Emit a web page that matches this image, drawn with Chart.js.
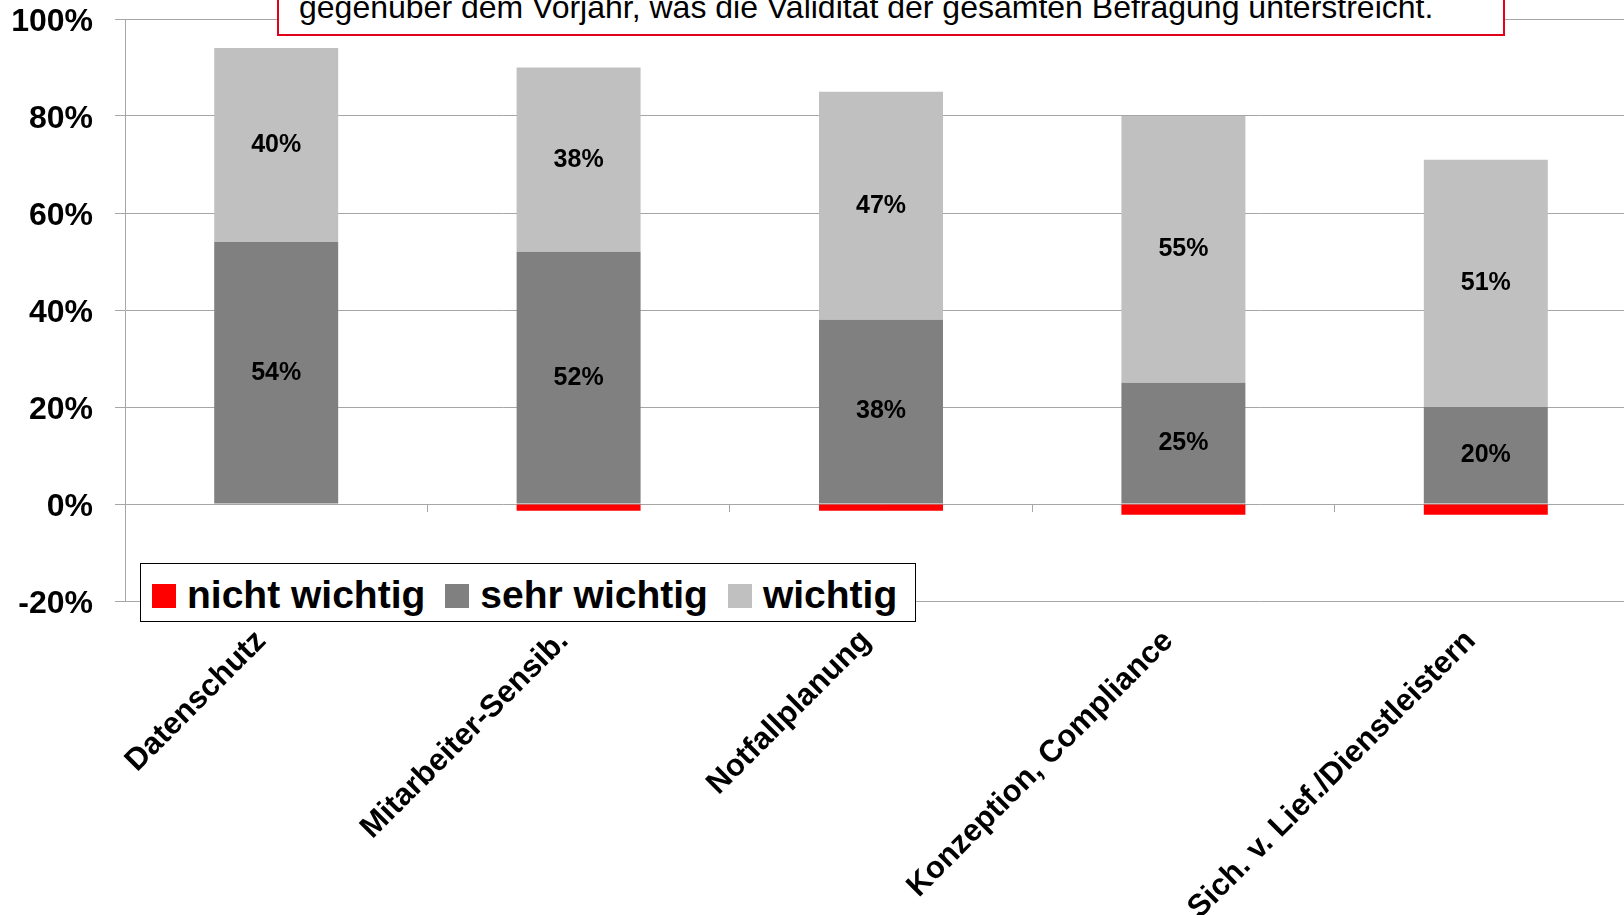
<!DOCTYPE html>
<html lang="de">
<head>
<meta charset="utf-8">
<title>Wichtigkeit der Themen</title>
<script src="https://cdn.jsdelivr.net/npm/chart.js@4.4.1/dist/chart.umd.min.js"></script>
<style>
  html, body { margin: 0; padding: 0; background: #fff; overflow: hidden; }
  #wrap { position: relative; width: 1624px; height: 915px; overflow: hidden; font-family: "Liberation Sans", Arial, sans-serif; }
  #grafico { position: absolute; left: 0; top: 0; }
  #hinweis-box { position: absolute; left: 277px; top: -40px; width: 1228px; height: 76px; box-sizing: border-box; border: 2px solid #e3001b; background: #fff; }
  #hinweis { position: absolute; left: 299px; top: -9px; font-size: 32px; line-height: 32px; white-space: nowrap; color: #000; }
  #legende { position: absolute; left: 140px; top: 563px; width: 776px; height: 59px; box-sizing: border-box; border: 1.5px solid #000; background: #fff; display: flex; align-items: center; padding-left: 11px; white-space: nowrap; }
  .leg-item { display: flex; align-items: center; flex-shrink: 0; margin-right: 20px; font-weight: bold; font-size: 39px; line-height: 39px; }
  .leg-item .txt { position: relative; top: 2px; }
  .leg-box { width: 24px; height: 24px; margin-right: 11px; margin-top: 6px; flex-shrink: 0; }
</style>
</head>
<body>
<div id="wrap">
  <canvas id="grafico" width="1637" height="915"></canvas>
  <div id="hinweis-box"></div>
  <div id="hinweis">gegenüber dem Vorjahr, was die Validität der gesamten Befragung unterstreicht.</div>
  <div id="legende"></div>
</div>
<script>
const kategorien = ['Datenschutz', 'Mitarbeiter-Sensib.', 'Notfallplanung', 'Konzeption, Compliance', 'Sich. v. Lief./Dienstleistern'];
const nichtWichtig = [0, -1.4, -1.4, -2.2, -2.2];
const sehrWichtig = [54, 52, 38, 25, 20];
const wichtig = [40, 38, 47, 55, 51];
const yTicks = [-20, 0, 20, 40, 60, 80, 100];

const FONT = '"Liberation Sans", Arial, sans-serif';
const GRID = '#a6a6a6';

Chart.defaults.font.family = FONT;
Chart.defaults.color = '#000';

// Prozentwerte mittig in die grauen Segmente schreiben
const segmentLabels = {
  id: 'segmentLabels',
  afterDatasetsDraw(chart) {
    const ctx = chart.ctx;
    ctx.save();
    ctx.font = 'bold 25px ' + FONT;
    ctx.fillStyle = '#000';
    ctx.textAlign = 'center';
    ctx.textBaseline = 'middle';
    chart.data.datasets.forEach((ds, di) => {
      if (!ds.showValues) return;
      chart.getDatasetMeta(di).data.forEach((bar, i) => {
        const { x, y, base } = bar.getProps(['x', 'y', 'base'], true);
        ctx.fillText(ds.data[i] + '%', x, (y + base) / 2);
      });
    });
    ctx.restore();
  },
};

const chart = new Chart(document.getElementById('grafico').getContext('2d'), {
  type: 'bar',
  data: {
    labels: kategorien,
    datasets: [
      { label: 'nicht wichtig', data: nichtWichtig, backgroundColor: '#ff0000', showValues: false },
      { label: 'sehr wichtig', data: sehrWichtig, backgroundColor: '#808080', showValues: true },
      { label: 'wichtig', data: wichtig, backgroundColor: '#c0c0c0', showValues: true },
    ],
  },
  options: {
    responsive: false,
    animation: false,
    events: [],
    layout: { padding: 0 },
    datasets: {
      bar: { categoryPercentage: 1, barPercentage: 0.41, borderWidth: 0 },
    },
    plugins: {
      legend: { display: false },
      tooltip: { enabled: false },
    },
    scales: {
      x: {
        stacked: true,
        offset: true,
        grid: { display: false, offset: true },
        border: { display: false },
        ticks: {
          minRotation: 45,
          maxRotation: 45,
          padding: 14,
          labelOffset: -15,
          autoSkip: false,
          font: { size: 31, weight: 'bold' },
        },
        afterFit: axis => { axis.height = 314; },
      },
      xz: {
        axis: 'x',
        type: 'category',
        position: { y: 0 },
        offset: true,
        grid: { offset: true, drawOnChartArea: false, drawTicks: true, tickLength: 8, color: GRID },
        border: { display: false },
        ticks: { display: false },
      },
      y: {
        stacked: true,
        min: -20,
        max: 100,
        afterBuildTicks: axis => { axis.ticks = yTicks.map(v => ({ value: v })); },
        grid: { color: GRID, tickLength: 10 },
        border: { color: GRID },
        ticks: {
          padding: 22,
          labelOffset: 3,
          font: { size: 32, weight: 'bold' },
          callback: v => v + '%',
        },
        afterFit: axis => {
          axis.width = 125;
          axis.paddingTop = 19;
          axis.paddingBottom = 19;
        },
      },
    },
  },
  plugins: [segmentLabels],
});

// Legende als HTML mit Rahmen, aus den Datensätzen aufgebaut
const legende = document.getElementById('legende');
chart.data.datasets.forEach(ds => {
  const item = document.createElement('span');
  item.className = 'leg-item';
  const box = document.createElement('span');
  box.className = 'leg-box';
  box.style.background = ds.backgroundColor;
  const txt = document.createElement('span');
  txt.className = 'txt';
  txt.textContent = ds.label;
  item.appendChild(box);
  item.appendChild(txt);
  legende.appendChild(item);
});
</script>
</body>
</html>
